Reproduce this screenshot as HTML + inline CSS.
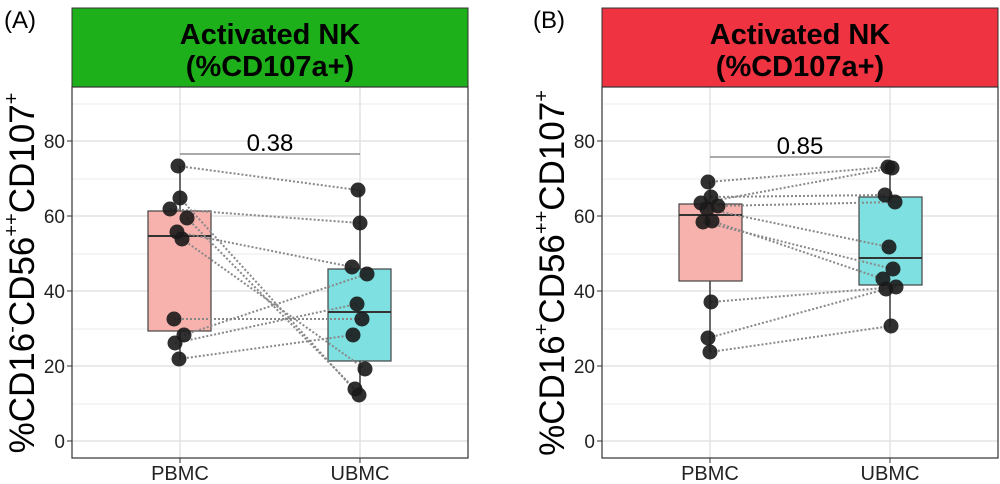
<!DOCTYPE html>
<html><head><meta charset="utf-8"><style>body{margin:0;background:#fff}svg{display:block;font-family:"Liberation Sans",Arial,sans-serif}</style></head><body>
<svg width="1000" height="484" viewBox="0 0 1000 484">
<g id="A">
<text x="4" y="28" font-size="24">(A)</text>
<rect x="72" y="8" width="396" height="79" fill="#1eb01a" stroke="#333" stroke-width="1"/>
<text x="270" y="44" font-size="29" font-weight="bold" text-anchor="middle">Activated NK</text>
<text x="270" y="76" font-size="29" font-weight="bold" text-anchor="middle">(%CD107a+)</text>
<g stroke="#ebebeb" stroke-width="1"><line x1="72" x2="468" y1="404" y2="404"/><line x1="72" x2="468" y1="329" y2="329"/><line x1="72" x2="468" y1="254" y2="254"/><line x1="72" x2="468" y1="179" y2="179"/><line x1="72" x2="468" y1="104" y2="104"/></g>
<g stroke="#e3e3e3" stroke-width="1.5"><line x1="72" x2="468" y1="441" y2="441"/><line x1="72" x2="468" y1="366" y2="366"/><line x1="72" x2="468" y1="291" y2="291"/><line x1="72" x2="468" y1="216" y2="216"/><line x1="72" x2="468" y1="141" y2="141"/><line x1="180" x2="180" y1="87" y2="458"/><line x1="360" x2="360" y1="87" y2="458"/></g>
<line x1="180" x2="180" y1="166" y2="359" stroke="#222" stroke-width="1.3"/>
<line x1="360" x2="360" y1="190" y2="395" stroke="#222" stroke-width="1.3"/>
<rect x="148" y="211" width="63" height="120" fill="#f8b2ae" stroke="#444" stroke-width="1.2"/>
<line x1="148" x2="211" y1="236" y2="236" stroke="#333" stroke-width="2"/>
<rect x="328" y="269" width="63" height="92" fill="#7ee0e0" stroke="#444" stroke-width="1.2"/>
<line x1="328" x2="391" y1="312" y2="312" stroke="#333" stroke-width="2"/>
<g stroke="#888" stroke-width="2" stroke-dasharray="2,2">
<line x1="178" y1="166" x2="358" y2="190"/><line x1="170" y1="209" x2="360" y2="223"/><line x1="177" y1="232" x2="352" y2="267"/><line x1="174" y1="319" x2="362" y2="319"/><line x1="179" y1="359" x2="353" y2="335"/><line x1="175" y1="343" x2="357" y2="304"/><line x1="184" y1="335" x2="367" y2="274"/><line x1="180" y1="198" x2="359" y2="395"/><line x1="187" y1="218" x2="355" y2="389"/><line x1="182" y1="239" x2="365" y2="369"/></g>
<g fill="#1a1a1a" fill-opacity="0.9">
<circle cx="178" cy="166" r="7.5"/><circle cx="180" cy="198" r="7.5"/><circle cx="170" cy="209" r="7.5"/><circle cx="187" cy="218" r="7.5"/><circle cx="177" cy="232" r="7.5"/><circle cx="182" cy="239" r="7.5"/><circle cx="174" cy="319" r="7.5"/><circle cx="184" cy="335" r="7.5"/><circle cx="175" cy="343" r="7.5"/><circle cx="179" cy="359" r="7.5"/>
<circle cx="358" cy="190" r="7.5"/><circle cx="360" cy="223" r="7.5"/><circle cx="352" cy="267" r="7.5"/><circle cx="367" cy="274" r="7.5"/><circle cx="357" cy="304" r="7.5"/><circle cx="362" cy="319" r="7.5"/><circle cx="353" cy="335" r="7.5"/><circle cx="365" cy="369" r="7.5"/><circle cx="355" cy="389" r="7.5"/><circle cx="359" cy="395" r="7.5"/></g>
<line x1="180" x2="360" y1="154" y2="154" stroke="#555" stroke-width="1"/>
<text x="270" y="151" font-size="24" text-anchor="middle">0.38</text>
<rect x="72" y="87" width="396" height="371" fill="none" stroke="#333" stroke-width="1.2"/>
<g font-size="19" fill="#222" text-anchor="end"><text x="65" y="448">0</text><text x="65" y="373">20</text><text x="65" y="298">40</text><text x="65" y="223">60</text><text x="65" y="148">80</text></g>
<g stroke="#333"><line x1="67" x2="72" y1="441" y2="441"/><line x1="67" x2="72" y1="366" y2="366"/><line x1="67" x2="72" y1="291" y2="291"/><line x1="67" x2="72" y1="216" y2="216"/><line x1="67" x2="72" y1="141" y2="141"/><line x1="180" x2="180" y1="458" y2="463"/><line x1="360" x2="360" y1="458" y2="463"/></g>
<g font-size="20" fill="#222" text-anchor="middle"><text x="180" y="480">PBMC</text><text x="360" y="480">UBMC</text></g>
<text transform="translate(34,273) rotate(-90)" font-size="35" text-anchor="middle">%CD16<tspan font-size="20" dy="-16">-</tspan><tspan dy="16">CD56</tspan><tspan font-size="20" dy="-16">++</tspan><tspan dy="16">CD107</tspan><tspan font-size="20" dy="-16">+</tspan></text>
</g>
<g id="B">
<text x="533" y="28" font-size="24">(B)</text>
<rect x="602" y="8" width="396" height="79" fill="#ef3341" stroke="#333" stroke-width="1"/>
<text x="800" y="44" font-size="29" font-weight="bold" text-anchor="middle">Activated NK</text>
<text x="800" y="76" font-size="29" font-weight="bold" text-anchor="middle">(%CD107a+)</text>
<g stroke="#ebebeb" stroke-width="1"><line x1="602" x2="998" y1="404" y2="404"/><line x1="602" x2="998" y1="329" y2="329"/><line x1="602" x2="998" y1="254" y2="254"/><line x1="602" x2="998" y1="179" y2="179"/><line x1="602" x2="998" y1="104" y2="104"/></g>
<g stroke="#e3e3e3" stroke-width="1.5"><line x1="602" x2="998" y1="441" y2="441"/><line x1="602" x2="998" y1="366" y2="366"/><line x1="602" x2="998" y1="291" y2="291"/><line x1="602" x2="998" y1="216" y2="216"/><line x1="602" x2="998" y1="141" y2="141"/><line x1="710" x2="710" y1="87" y2="458"/><line x1="890" x2="890" y1="87" y2="458"/></g>
<line x1="710" x2="710" y1="182" y2="352" stroke="#222" stroke-width="1.3"/>
<line x1="890" x2="890" y1="167" y2="326" stroke="#222" stroke-width="1.3"/>
<rect x="679" y="204" width="63" height="77" fill="#f8b2ae" stroke="#444" stroke-width="1.2"/>
<line x1="679" x2="742" y1="215" y2="215" stroke="#333" stroke-width="2"/>
<rect x="859" y="197" width="63" height="88" fill="#7ee0e0" stroke="#444" stroke-width="1.2"/>
<line x1="859" x2="922" y1="258" y2="258" stroke="#333" stroke-width="2"/>
<g stroke="#888" stroke-width="2" stroke-dasharray="2,2">
<line x1="708" y1="182" x2="888" y2="167"/><line x1="711" y1="197" x2="885" y2="195"/><line x1="701" y1="203" x2="892" y2="168"/><line x1="718" y1="206" x2="895" y2="202"/><line x1="707" y1="209" x2="889" y2="247"/><line x1="703" y1="222" x2="893" y2="269"/><line x1="712" y1="221" x2="883" y2="279"/><line x1="711" y1="302" x2="896" y2="287"/><line x1="708" y1="338" x2="886" y2="289"/><line x1="710" y1="352" x2="891" y2="326"/></g>
<g fill="#1a1a1a" fill-opacity="0.9">
<circle cx="708" cy="182" r="7.5"/><circle cx="711" cy="197" r="7.5"/><circle cx="701" cy="203" r="7.5"/><circle cx="718" cy="206" r="7.5"/><circle cx="707" cy="209" r="7.5"/><circle cx="703" cy="222" r="7.5"/><circle cx="712" cy="221" r="7.5"/><circle cx="711" cy="302" r="7.5"/><circle cx="708" cy="338" r="7.5"/><circle cx="710" cy="352" r="7.5"/>
<circle cx="888" cy="167" r="7.5"/><circle cx="892" cy="168" r="7.5"/><circle cx="885" cy="195" r="7.5"/><circle cx="895" cy="202" r="7.5"/><circle cx="889" cy="247" r="7.5"/><circle cx="893" cy="269" r="7.5"/><circle cx="883" cy="279" r="7.5"/><circle cx="886" cy="289" r="7.5"/><circle cx="896" cy="287" r="7.5"/><circle cx="891" cy="326" r="7.5"/></g>
<line x1="710" x2="890" y1="157" y2="157" stroke="#555" stroke-width="1"/>
<text x="800" y="154" font-size="24" text-anchor="middle">0.85</text>
<rect x="602" y="87" width="396" height="371" fill="none" stroke="#333" stroke-width="1.2"/>
<g font-size="19" fill="#222" text-anchor="end"><text x="595" y="448">0</text><text x="595" y="373">20</text><text x="595" y="298">40</text><text x="595" y="223">60</text><text x="595" y="148">80</text></g>
<g stroke="#333"><line x1="597" x2="602" y1="441" y2="441"/><line x1="597" x2="602" y1="366" y2="366"/><line x1="597" x2="602" y1="291" y2="291"/><line x1="597" x2="602" y1="216" y2="216"/><line x1="597" x2="602" y1="141" y2="141"/><line x1="710" x2="710" y1="458" y2="463"/><line x1="890" x2="890" y1="458" y2="463"/></g>
<g font-size="20" fill="#222" text-anchor="middle"><text x="710" y="480">PBMC</text><text x="890" y="480">UBMC</text></g>
<text transform="translate(564,273) rotate(-90)" font-size="35" text-anchor="middle">%CD16<tspan font-size="20" dy="-16">+</tspan><tspan dy="16">CD56</tspan><tspan font-size="20" dy="-16">++</tspan><tspan dy="16">CD107</tspan><tspan font-size="20" dy="-16">+</tspan></text>
</g>
</svg>
</body></html>
